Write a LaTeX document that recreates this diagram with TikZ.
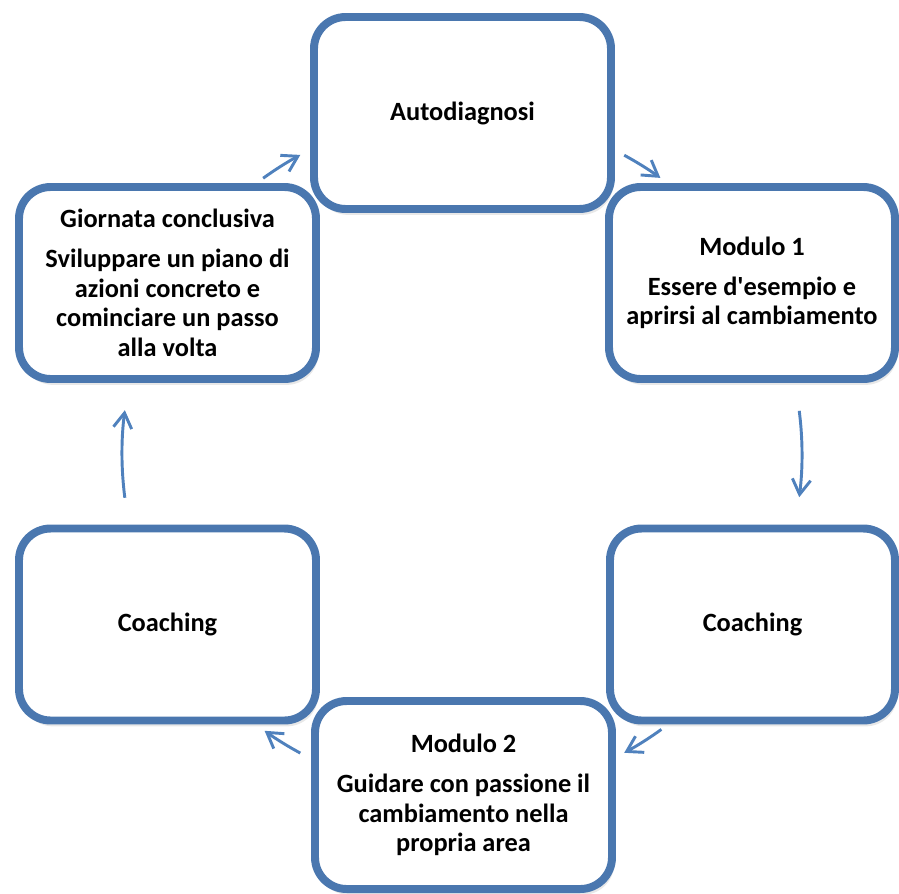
\documentclass[tikz,border=0pt]{standalone}
\usepackage{fontspec}
\setmainfont{Carlito}[Ligatures=TeXOff]
\usepackage{xcolor}
\usetikzlibrary{arrows.meta}
\usetikzlibrary{shadows}
\definecolor{boxblue}{HTML}{4A77AF}
\definecolor{arrowblue}{HTML}{4F81BD}

\begin{document}
\begin{tikzpicture}[x=0.03cm, y=0.03cm,
    phase/.style={draw=boxblue, line width=6.8pt, fill=white, rounded corners=0.95cm,
      minimum width=8.91cm, minimum height=5.76cm, align=center, inner sep=0pt,
      font=\fontsize{22.5}{25.2}\selectfont\bfseries,
      drop shadow={shadow xshift=2pt, shadow yshift=-5pt, opacity=0.18}},
    cyclearrow/.style={draw=arrowblue, line width=2.5pt,
      -{Straight Barb[length=0.45cm, width=0.55cm]}}]
        \useasboundingbox (0,0) rectangle (899,-893);
        \clip (0,0) rectangle (899,-893);
        %boxes, clockwise from the top
        \node[phase] (auto) at (462.5,-113) {Autodiagnosi};
        \node[phase, minimum width=8.58cm] (mod1) at (752,-283)
              {Modulo 1\\[9pt] Essere d'esempio e\\ aprirsi al cambiamento};
        \node[phase, minimum width=8.55cm] (coachr) at (752.5,-624.5) {Coaching};
        \node[phase, minimum height=5.64cm] (mod2) at (463.5,-795)
              {Modulo 2\\[9pt] Guidare con passione il\\ cambiamento nella\\ propria area};
        \node[phase] (coachl) at (167.5,-624.5) {Coaching};
        \node[phase] (giorn) at (167.5,-283)
              {Giornata conclusiva\\[9pt] Sviluppare un piano di\\ azioni concreto e\\
               cominciare un passo\\ alla volta};
        %cycle arrows, arcs round the hub
        \coordinate (hub) at (462,-454);
        \draw[cyclearrow] ([shift=(125.8:340)]hub) arc (125.8:118.4:340);
        \draw[cyclearrow] ([shift=(61.5:340)]hub) arc (61.5:54.3:340);
        \draw[cyclearrow] ([shift=(7.3:340)]hub) arc (7.3:-7.3:340);
        \draw[cyclearrow] ([shift=(-54.1:340)]hub) arc (-54.1:-61.5:340);
        \draw[cyclearrow] ([shift=(-118.4:340)]hub) arc (-118.4:-125.5:340);
        \draw[cyclearrow] ([shift=(187.4:340)]hub) arc (187.4:172.6:340);
\end{tikzpicture}
\end{document}
